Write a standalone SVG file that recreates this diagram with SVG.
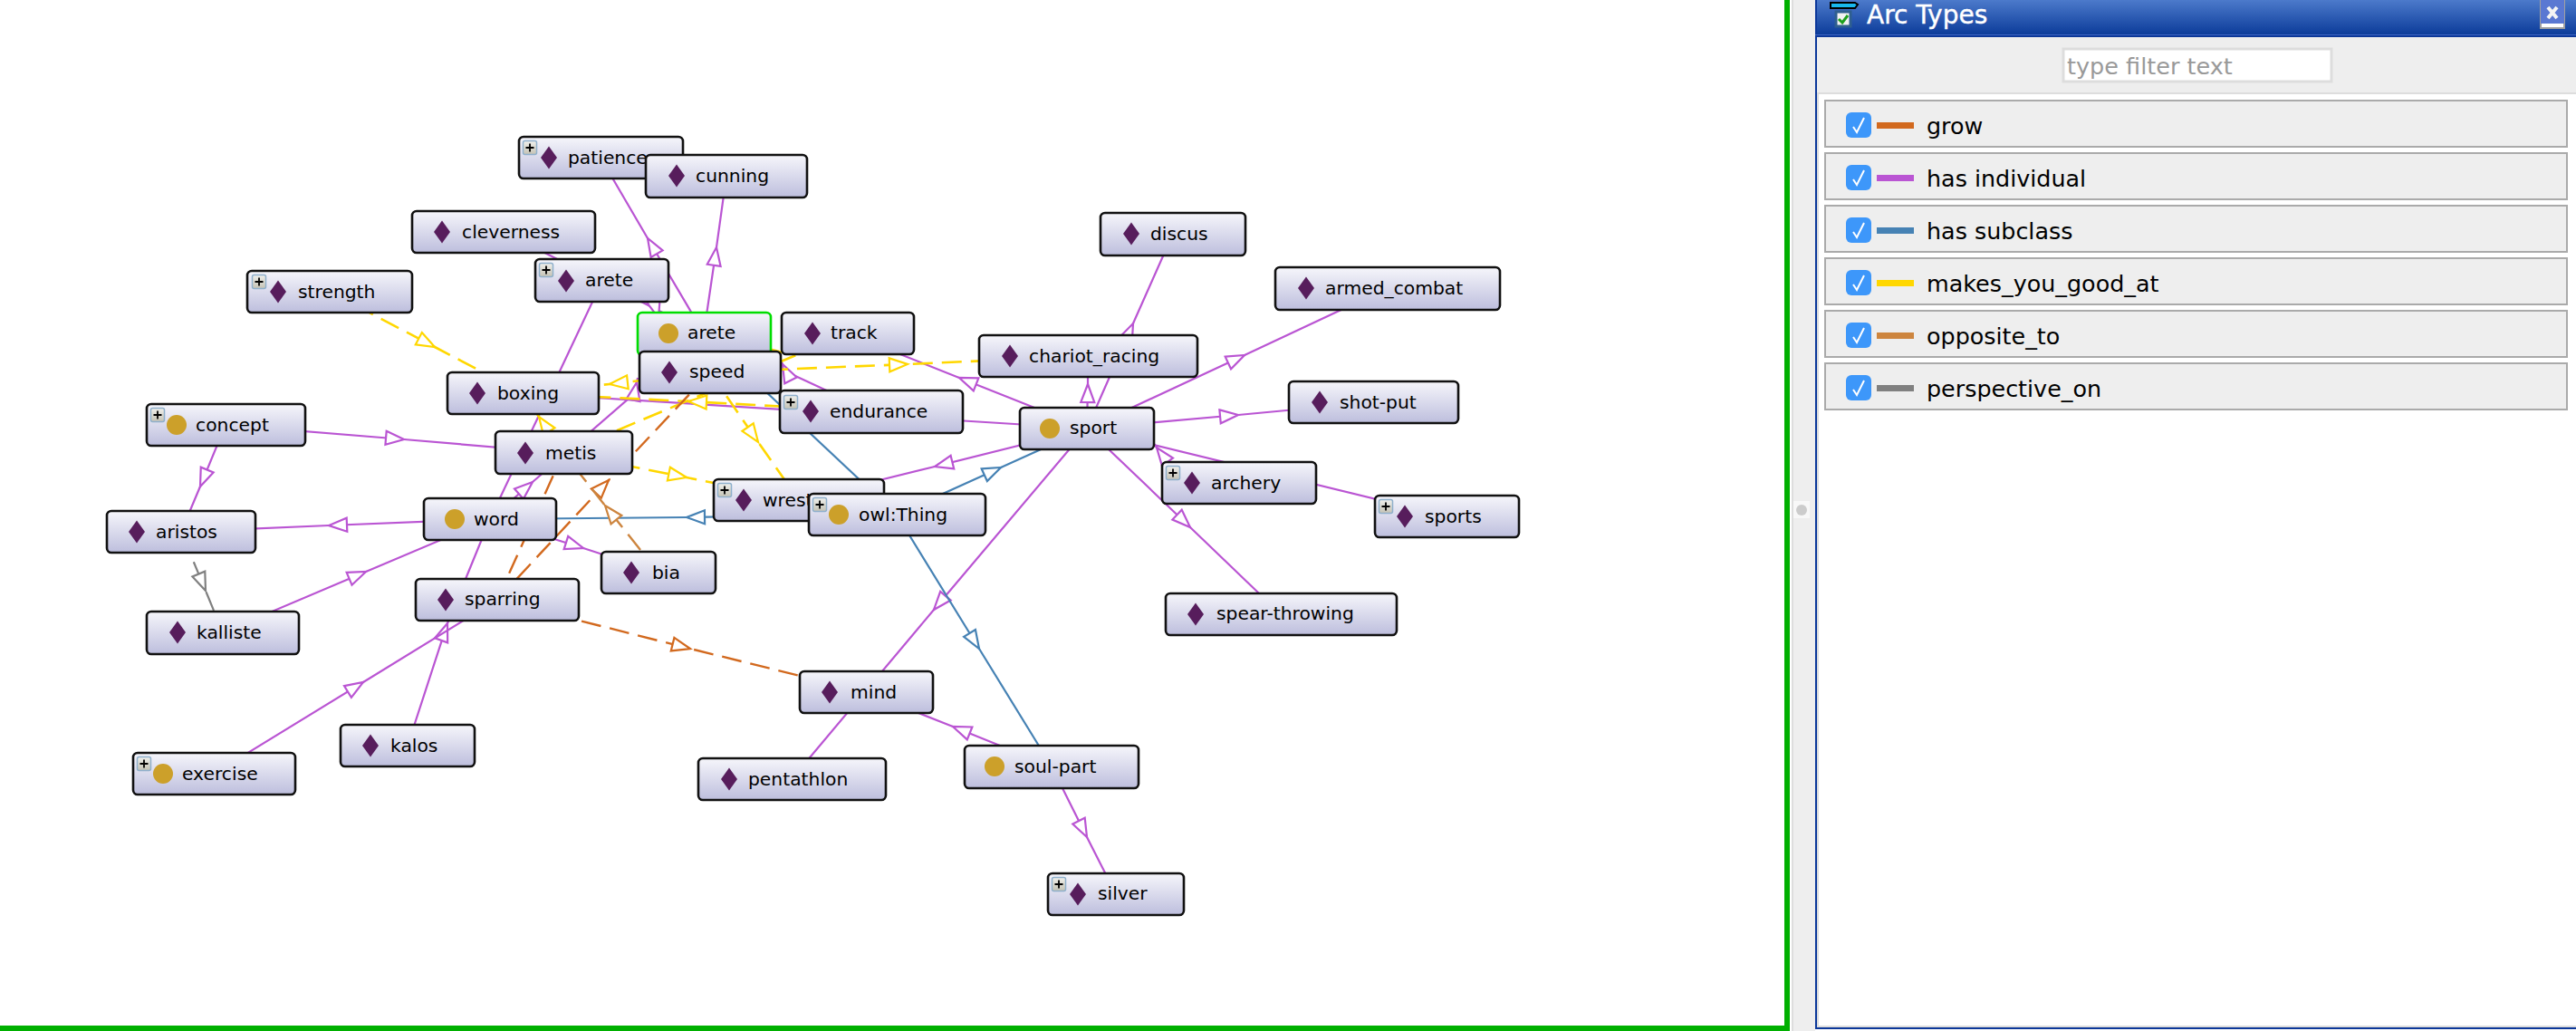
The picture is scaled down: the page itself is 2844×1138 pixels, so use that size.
<svg xmlns="http://www.w3.org/2000/svg" width="2844" height="1138" viewBox="0 0 2844 1138">
<style>
text{font-family:"DejaVu Sans","Liberation Sans",sans-serif}
.n{fill:url(#ng);stroke:#111;stroke-width:2.6}
.sel{stroke:#00dd00}
.t{font-size:20.3px;fill:#000;transform:translateY(1px)}
.e{fill:none;stroke-width:2.2}
.p{stroke:#ba55d3;marker-mid:url(#mp)}
.b{stroke:#4682b4;marker-mid:url(#mb)}
.y{stroke:#ffd700;stroke-width:2.6;stroke-dasharray:22 10;marker-mid:url(#my)}
.o{stroke:#d2691e;stroke-width:2.4;stroke-dasharray:22 10;marker-mid:url(#mo)}
.a{stroke:#cd853f;stroke-width:2.4;stroke-dasharray:22 10;marker-mid:url(#ma)}
.g{stroke:#808080;stroke-width:2.2;stroke-dasharray:22 14;marker-mid:url(#mg)}
.row{fill:#eee;stroke:#aaa;stroke-width:2}
.rowt{font-size:25.4px;fill:#000;transform:translateY(1px)}
.cb{fill:#3d97fa}
.ck{fill:none;stroke:#fff;stroke-width:2}
</style>
<defs>
<linearGradient id="ng" x1="0" y1="0" x2="0" y2="1"><stop offset="0" stop-color="#f6f6fb"/><stop offset="1" stop-color="#bdbedd"/></linearGradient>
<linearGradient id="tg" x1="0" y1="0" x2="0" y2="1"><stop offset="0" stop-color="#4c7acb"/><stop offset="1" stop-color="#0c3c9a"/></linearGradient>
<linearGradient id="pg" x1="0" y1="0" x2="0" y2="1"><stop offset="0" stop-color="#f0f0ec"/><stop offset="1" stop-color="#c4c2b4"/></linearGradient>
<marker id="mp" markerUnits="userSpaceOnUse" markerWidth="24" markerHeight="20" refX="21" refY="9" orient="auto" overflow="visible"><path d="M1 1.5L21 9L1 16.5Z" fill="#fff" stroke="#ba55d3" stroke-width="2.2"/></marker>
<marker id="mb" markerUnits="userSpaceOnUse" markerWidth="24" markerHeight="20" refX="21" refY="9" orient="auto" overflow="visible"><path d="M1 1.5L21 9L1 16.5Z" fill="#fff" stroke="#4682b4" stroke-width="2.2"/></marker>
<marker id="my" markerUnits="userSpaceOnUse" markerWidth="24" markerHeight="20" refX="21" refY="9" orient="auto" overflow="visible"><path d="M1 1.5L21 9L1 16.5Z" fill="#fff" stroke="#ffd700" stroke-width="2.2"/></marker>
<marker id="mo" markerUnits="userSpaceOnUse" markerWidth="24" markerHeight="20" refX="21" refY="9" orient="auto" overflow="visible"><path d="M1 1.5L21 9L1 16.5Z" fill="#fff" stroke="#d2691e" stroke-width="2.2"/></marker>
<marker id="ma" markerUnits="userSpaceOnUse" markerWidth="24" markerHeight="20" refX="21" refY="9" orient="auto" overflow="visible"><path d="M1 1.5L21 9L1 16.5Z" fill="#fff" stroke="#cd853f" stroke-width="2.2"/></marker>
<marker id="mg" markerUnits="userSpaceOnUse" markerWidth="24" markerHeight="20" refX="21" refY="9" orient="auto" overflow="visible"><path d="M1 1.5L21 9L1 16.5Z" fill="#fff" stroke="#808080" stroke-width="2.2"/></marker>
<polygon id="dia" points="0,-12.5 9,0 0,12.5 -9,0" fill="#571d5c"/>
<circle id="cir" r="11" fill="#cca02a"/>
<g id="plus"><rect x="0.5" y="0.5" width="15" height="15" rx="2" fill="url(#pg)" stroke="#8fb0cc" stroke-width="1.5"/><path d="M8 3.5V12.5M3.5 8H12.5" stroke="#000" stroke-width="1.8" fill="none"/></g>
<path id="chk" d="M-6 2L-2 8L6 -8"/>
</defs>
<rect width="2844" height="1138" fill="#fff"/>

<g id="connectors">
<path class="e p" d="M777 368L715 263L663 174"/>
<path class="e p" d="M777 368L791 273L802 194"/>
<path class="e p" d="M556 256L777 368"/>
<path class="e p" d="M722 334L727 351L729 358"/>
<path class="e p" d="M665 310L541 573"/>
<path class="e p" d="M450 823L494 688L541 573"/>
<path class="e p" d="M236 854L401 753L549 662"/>
<path class="e p" d="M246 698L404 631L541 573"/>
<path class="e p" d="M541 573L363 580L200 587"/>
<path class="e p" d="M249 469L221 537L200 587"/>
<path class="e p" d="M249 469L446 485L622 500"/>
<path class="e p" d="M541 573L644 605L727 632"/>
<path class="e p" d="M541 573L588 532L777 368"/>
<path class="e p" d="M700 437L703 422L704 417"/>
<path class="e p" d="M1200 473L1251 357L1295 258"/>
<path class="e p" d="M1200 473L1374 392L1532 318"/>
<path class="e p" d="M1200 473L1367 458L1516 444"/>
<path class="e p" d="M1200 473L1201 424L1201 393"/>
<path class="e p" d="M1200 473L1597 570"/>
<path class="e p" d="M1200 473L1314 582L1414 678"/>
<path class="e p" d="M1200 473L1059 417L936 368"/>
<path class="e p" d="M1200 473L1032 515L882 552"/>
<path class="e p" d="M1200 473L1031 673L874 860"/>
<path class="e p" d="M1161 846L1052 802L956 764"/>
<path class="e p" d="M1161 846L1200 924L1232 987"/>
<path class="e p" d="M1200 473L577 434"/>
<path class="e p" d="M962 454L777 368"/>
<path class="e p" d="M872 418L864 402L862 398"/>
<path class="e p" d="M1289 510L1277 494L1274 490"/>
<path class="e b" d="M990 568L758 571L541 573"/>
<path class="e b" d="M990 568L1105 516L1200 473"/>
<path class="e b" d="M990 568L1081 716L1161 846"/>
<path class="e b" d="M990 568L777 368"/>
<path class="e y" d="M364 322L480 383L577 434"/>
<path class="e y" d="M622 500L595 460L577 434"/>
<path class="e y" d="M784 411L673 424L577 434"/>
<path class="e y" d="M784 411L1002 402L1201 393"/>
<path class="e y" d="M784 411L837 488L882 552"/>
<path class="e y" d="M962 454L760 443L577 434"/>
<path class="e y" d="M622 500L936 368"/>
<path class="e y" d="M622 500L758 527L882 552"/>
<path class="e y" d="M848 385L864 389"/>
<path class="e o" d="M549 662L762 716L956 764"/>
<path class="e o" d="M549 662L622 500"/>
<path class="e o" d="M549 662L672 530L784 411"/>
<path class="e a" d="M727 632L668 558L622 500"/>
<path class="e g" d="M200 587L227 652L246 698"/>
</g>

<g id="node-strength"><rect class="n" x="273" y="299" width="182" height="46" rx="5"/><use href="#dia" x="307" y="322"/><use href="#plus" x="278" y="303"/><text class="t" x="329" y="328">strength</text></g>
<g id="node-patience"><rect class="n" x="573" y="151" width="181" height="46" rx="5"/><use href="#dia" x="606" y="174"/><use href="#plus" x="577" y="155"/><text class="t" x="627" y="180">patience</text></g>
<g id="node-cunning"><rect class="n" x="713" y="171" width="178" height="47" rx="5"/><use href="#dia" x="747" y="194"/><text class="t" x="768" y="200">cunning</text></g>
<g id="node-cleverness"><rect class="n" x="455" y="233" width="202" height="46" rx="5"/><use href="#dia" x="488" y="256"/><text class="t" x="510" y="262">cleverness</text></g>
<g id="node-arete-ind"><rect class="n" x="591" y="286" width="147" height="47" rx="5"/><use href="#dia" x="625" y="310"/><use href="#plus" x="595" y="290"/><text class="t" x="646" y="315">arete</text></g>
<g id="node-arete"><rect class="n sel" x="704" y="345" width="147" height="47" rx="5"/><use href="#cir" x="738" y="368"/><text class="t" x="759" y="373">arete</text></g>
<g id="node-speed"><rect class="n" x="706" y="388" width="156" height="46" rx="5"/><use href="#dia" x="739" y="411"/><text class="t" x="761" y="416">speed</text></g>
<g id="node-track"><rect class="n" x="863" y="345" width="146" height="46" rx="5"/><use href="#dia" x="897" y="368"/><text class="t" x="917" y="373">track</text></g>
<g id="node-boxing"><rect class="n" x="494" y="411" width="167" height="46" rx="5"/><use href="#dia" x="527" y="434"/><text class="t" x="549" y="440">boxing</text></g>
<g id="node-endurance"><rect class="n" x="861" y="431" width="202" height="47" rx="5"/><use href="#dia" x="895" y="454"/><use href="#plus" x="865" y="436"/><text class="t" x="916" y="460">endurance</text></g>
<g id="node-chariot_racing"><rect class="n" x="1081" y="370" width="241" height="46" rx="5"/><use href="#dia" x="1115" y="393"/><text class="t" x="1136" y="399">chariot_racing</text></g>
<g id="node-sport"><rect class="n" x="1126" y="450" width="148" height="46" rx="5"/><use href="#cir" x="1159" y="473"/><text class="t" x="1181" y="478">sport</text></g>
<g id="node-metis"><rect class="n" x="547" y="476" width="151" height="47" rx="5"/><use href="#dia" x="580" y="500"/><text class="t" x="602" y="506">metis</text></g>
<g id="node-word"><rect class="n" x="468" y="550" width="146" height="46" rx="5"/><use href="#cir" x="502" y="573"/><text class="t" x="523" y="579">word</text></g>
<g id="node-wrestling"><rect class="n" x="788" y="529" width="188" height="46" rx="5"/><use href="#dia" x="821" y="552"/><use href="#plus" x="792" y="533"/><text class="t" x="842" y="558">wrestling</text></g>
<g id="node-owl-thing"><rect class="n" x="893" y="545" width="195" height="46" rx="5"/><use href="#cir" x="926" y="568"/><use href="#plus" x="897" y="549"/><text class="t" x="948" y="574">owl:Thing</text></g>
<g id="node-bia"><rect class="n" x="664" y="609" width="126" height="46" rx="5"/><use href="#dia" x="697" y="632"/><text class="t" x="720" y="638">bia</text></g>
<g id="node-concept"><rect class="n" x="162" y="446" width="175" height="46" rx="5"/><use href="#cir" x="195" y="469"/><use href="#plus" x="166" y="450"/><text class="t" x="216" y="475">concept</text></g>
<g id="node-aristos"><rect class="n" x="118" y="564" width="164" height="46" rx="5"/><use href="#dia" x="151" y="587"/><text class="t" x="172" y="593">aristos</text></g>
<g id="node-kalliste"><rect class="n" x="162" y="675" width="168" height="47" rx="5"/><use href="#dia" x="196" y="698"/><text class="t" x="217" y="704">kalliste</text></g>
<g id="node-sparring"><rect class="n" x="459" y="639" width="180" height="46" rx="5"/><use href="#dia" x="492" y="662"/><text class="t" x="513" y="667">sparring</text></g>
<g id="node-exercise"><rect class="n" x="147" y="831" width="179" height="46" rx="5"/><use href="#cir" x="180" y="854"/><use href="#plus" x="151" y="835"/><text class="t" x="201" y="860">exercise</text></g>
<g id="node-kalos"><rect class="n" x="376" y="800" width="148" height="46" rx="5"/><use href="#dia" x="409" y="823"/><text class="t" x="431" y="829">kalos</text></g>
<g id="node-pentathlon"><rect class="n" x="771" y="837" width="207" height="46" rx="5"/><use href="#dia" x="805" y="860"/><text class="t" x="826" y="866">pentathlon</text></g>
<g id="node-mind"><rect class="n" x="883" y="741" width="147" height="46" rx="5"/><use href="#dia" x="916" y="764"/><text class="t" x="939" y="770">mind</text></g>
<g id="node-soul-part"><rect class="n" x="1065" y="823" width="192" height="47" rx="5"/><use href="#cir" x="1098" y="846"/><text class="t" x="1120" y="852">soul-part</text></g>
<g id="node-silver"><rect class="n" x="1157" y="964" width="150" height="46" rx="5"/><use href="#dia" x="1190" y="987"/><use href="#plus" x="1161" y="968"/><text class="t" x="1212" y="992">silver</text></g>
<g id="node-discus"><rect class="n" x="1215" y="235" width="160" height="47" rx="5"/><use href="#dia" x="1249" y="258"/><text class="t" x="1270" y="264">discus</text></g>
<g id="node-armed_combat"><rect class="n" x="1408" y="295" width="248" height="47" rx="5"/><use href="#dia" x="1442" y="318"/><text class="t" x="1463" y="324">armed_combat</text></g>
<g id="node-shot-put"><rect class="n" x="1423" y="421" width="187" height="46" rx="5"/><use href="#dia" x="1457" y="444"/><text class="t" x="1479" y="450">shot-put</text></g>
<g id="node-archery"><rect class="n" x="1283" y="510" width="170" height="46" rx="5"/><use href="#dia" x="1316" y="533"/><use href="#plus" x="1287" y="514"/><text class="t" x="1337" y="539">archery</text></g>
<g id="node-sports"><rect class="n" x="1518" y="547" width="159" height="46" rx="5"/><use href="#dia" x="1551" y="570"/><use href="#plus" x="1522" y="551"/><text class="t" x="1573" y="576">sports</text></g>
<g id="node-spear-throwing"><rect class="n" x="1287" y="655" width="255" height="46" rx="5"/><use href="#dia" x="1320" y="678"/><text class="t" x="1343" y="683">spear-throwing</text></g>

<g id="frame">
<rect x="0" y="1132" width="1976" height="6" fill="#00b000"/>
<rect x="1970" y="0" width="6" height="1138" fill="#00b000"/>
<rect x="1978" y="0" width="2" height="1138" fill="#ddd"/>
<rect x="1980" y="0" width="24" height="1138" fill="#eee"/>
<rect x="1980" y="553" width="18" height="19" fill="#f8f8f8"/>
<circle cx="1989" cy="563" r="6" fill="#ccc"/>
</g>

<g id="panel">
<rect x="2004" y="0" width="840" height="1136" fill="#0b3799"/>
<rect x="2006" y="0" width="838" height="1134" fill="#ddd"/>
<rect x="2008" y="104" width="836" height="1028" fill="#fff"/>
<rect x="2006" y="41" width="838" height="61" fill="#eee"/>
<rect x="2006" y="0" width="838" height="38" fill="url(#tg)"/>
<rect x="2004" y="38" width="840" height="3" fill="#0b3799"/>
<rect x="2004" y="38" width="840" height="1" fill="#3f66c4"/>
<g id="panel-icon">
<path d="M2021 3H2048L2051 5L2048 9H2021Z" fill="#18b8ee" stroke="#000" stroke-width="2"/>
<rect x="2027" y="13" width="16" height="16" fill="#f2f2f2" stroke="#2f5f8f" stroke-width="3"/>
<path d="M2030 21L2034 25L2040 17" fill="none" stroke="#1da01d" stroke-width="3"/>
</g>
<text x="2061" y="26" font-size="28" fill="#fff" stroke="#fff" stroke-width="0.4">Arc Types</text>
<g id="panel-close">
<rect x="2805" y="0" width="26" height="31" fill="#fff" stroke="#a0a0a0" stroke-width="2"/>
<rect x="2805" y="0" width="26" height="26" fill="#5a78d2"/>
<path d="M2813 8L2823 20M2823 8L2813 20" stroke="#f4f4f4" stroke-width="4" fill="none"/>
</g>
<rect x="2278" y="54" width="296" height="36" fill="#fff" stroke="#ddd" stroke-width="3"/>
<text x="2282" y="82" font-size="25.5" fill="#999">type filter text</text>
<g id="row-grow"><rect class="row" x="2015" y="111" width="819" height="51"/><rect class="cb" x="2038" y="124" width="28" height="28" rx="6"/><use href="#chk" x="2052" y="138" class="ck"/><rect x="2072" y="135" width="41" height="7" fill="#d2691e"/><text class="rowt" x="2127" y="147">grow</text></g>
<g id="row-has-individual"><rect class="row" x="2015" y="169" width="819" height="51"/><rect class="cb" x="2038" y="182" width="28" height="28" rx="6"/><use href="#chk" x="2052" y="196" class="ck"/><rect x="2072" y="193" width="41" height="7" fill="#ba55d3"/><text class="rowt" x="2127" y="205">has individual</text></g>
<g id="row-has-subclass"><rect class="row" x="2015" y="227" width="819" height="51"/><rect class="cb" x="2038" y="240" width="28" height="28" rx="6"/><use href="#chk" x="2052" y="254" class="ck"/><rect x="2072" y="251" width="41" height="7" fill="#4682b4"/><text class="rowt" x="2127" y="263">has subclass</text></g>
<g id="row-makes_you_good_at"><rect class="row" x="2015" y="285" width="819" height="51"/><rect class="cb" x="2038" y="298" width="28" height="28" rx="6"/><use href="#chk" x="2052" y="312" class="ck"/><rect x="2072" y="309" width="41" height="7" fill="#ffd700"/><text class="rowt" x="2127" y="321">makes_you_good_at</text></g>
<g id="row-opposite_to"><rect class="row" x="2015" y="343" width="819" height="51"/><rect class="cb" x="2038" y="356" width="28" height="28" rx="6"/><use href="#chk" x="2052" y="370" class="ck"/><rect x="2072" y="367" width="41" height="7" fill="#cd853f"/><text class="rowt" x="2127" y="379">opposite_to</text></g>
<g id="row-perspective_on"><rect class="row" x="2015" y="401" width="819" height="51"/><rect class="cb" x="2038" y="414" width="28" height="28" rx="6"/><use href="#chk" x="2052" y="428" class="ck"/><rect x="2072" y="425" width="41" height="7" fill="#808080"/><text class="rowt" x="2127" y="437">perspective_on</text></g>
</g>
</svg>
